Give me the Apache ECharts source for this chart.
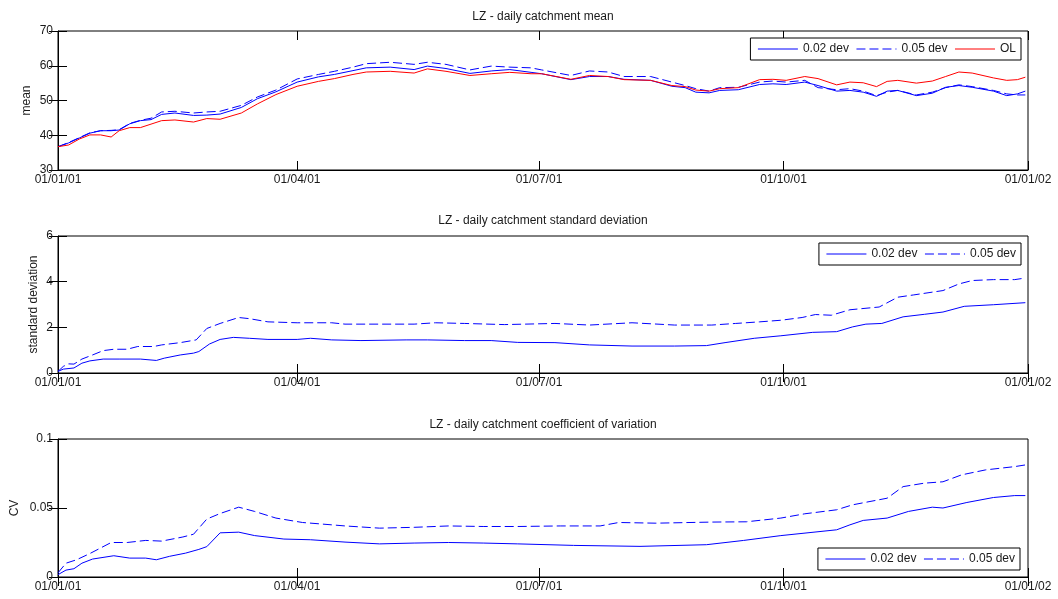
<!DOCTYPE html>
<html>
<head>
<meta charset="utf-8">
<script src="https://cdn.jsdelivr.net/npm/echarts@6/dist/echarts.min.js"></script>
<style>
  html, body { margin: 0; padding: 0; background: #fff; }
  #chart { width: 1058px; height: 599px; }
</style>
</head>
<body>
<div id="chart"></div>
<script>
// x ticks: day of year 2001 and their date labels
const xTickDays = [0, 90, 181, 273, 365];
const xTickLabels = ['01/01/01', '01/04/01', '01/07/01', '01/10/01', '01/01/02'];

// daily catchment mean
const meanDays = [0,4,8,12,16,20,23,27,31,35,39,44,51,56,61,69,75,82,90,98,104,111,116,125,134,139,146,155,163,170,178,182,193,200,207,213,223,231,236,240,245,249,256,264,269,274,281,286,293,298,303,308,312,316,323,329,334,339,344,352,357,361,364];
const meanDev02 = [36.7,37.8,39.2,40.6,41.3,41.3,41.5,43.3,44.2,44.5,46.0,46.4,45.7,45.8,46.1,48.0,50.5,52.5,55.3,56.8,57.5,58.6,59.4,59.6,58.9,59.9,59.2,57.8,58.5,58.9,58.1,57.7,56.0,56.9,56.9,56.1,55.8,54.1,53.7,52.4,52.2,52.9,53.1,54.6,54.8,54.6,55.3,54.3,52.7,52.9,52.4,51.2,52.7,52.9,51.4,52.1,53.8,54.3,53.8,52.7,51.4,51.9,52.7];
const meanDev05 = [36.7,37.9,39.3,40.7,41.3,41.4,41.6,43.4,44.3,44.9,46.7,46.9,46.4,46.7,46.9,48.6,51.0,53.0,56.2,57.5,58.4,59.6,60.6,61.0,60.4,61.0,60.4,58.8,59.9,59.6,59.4,58.8,57.2,58.5,58.2,56.9,56.9,55.3,54.3,53.4,52.7,53.7,53.8,55.3,55.6,55.3,55.8,53.7,53.1,53.4,52.7,51.4,52.4,52.9,51.6,52.4,53.7,54.5,54.0,52.9,51.9,51.6,51.6];
const meanOL = [36.7,37.2,38.9,40.1,40.1,39.5,41.3,42.2,42.2,43.2,44.2,44.4,43.8,44.8,44.6,46.4,49.0,51.7,54.1,55.5,56.3,57.5,58.2,58.4,57.9,59.1,58.4,57.2,57.7,58.1,57.7,57.7,56.1,57.2,56.9,56.0,55.8,54.3,54.0,53.0,52.7,53.4,53.7,56.0,56.1,55.8,56.9,56.3,54.5,55.3,55.1,54.0,55.5,55.8,55.0,55.6,56.9,58.2,57.9,56.5,55.8,56.0,56.7];

// daily catchment standard deviation
const sdDays02 = [0,2,6,9,12,17,23,31,37,40,46,51,53,57,61,66,72,79,90,95,103,114,131,139,153,163,173,187,200,216,232,244,251,262,272,284,293,299,304,310,318,326,333,341,352,364];
const sd02 = [0.07,0.17,0.22,0.43,0.53,0.61,0.61,0.61,0.55,0.65,0.79,0.87,0.94,1.27,1.47,1.56,1.52,1.47,1.47,1.52,1.45,1.42,1.45,1.45,1.42,1.42,1.34,1.33,1.23,1.18,1.18,1.20,1.33,1.52,1.63,1.78,1.81,2.02,2.14,2.17,2.46,2.57,2.67,2.92,2.99,3.08];
const sdDays05 = [0,2,4,6,9,13,17,21,26,30,36,39,46,52,56,61,68,72,79,90,103,108,121,134,142,153,168,187,200,216,232,246,255,264,272,280,285,291,298,309,316,322,333,339,344,352,360,364];
const sd05 = [0.07,0.29,0.40,0.39,0.61,0.79,0.98,1.04,1.04,1.16,1.16,1.23,1.33,1.45,1.95,2.17,2.43,2.38,2.24,2.20,2.20,2.14,2.14,2.14,2.20,2.17,2.12,2.17,2.10,2.20,2.10,2.10,2.17,2.24,2.31,2.43,2.56,2.53,2.77,2.89,3.32,3.42,3.61,3.90,4.05,4.09,4.09,4.16];

// daily catchment coefficient of variation
const cvDays02 = [0,3,6,9,13,21,27,33,37,42,48,53,56,61,68,74,85,95,108,121,134,147,160,173,194,219,244,258,272,293,298,303,312,320,329,333,342,352,360,364];
const cv02 = [0.0017,0.005,0.006,0.010,0.013,0.0154,0.0137,0.0137,0.0125,0.015,0.0173,0.020,0.022,0.032,0.0325,0.030,0.0275,0.027,0.0253,0.024,0.0246,0.025,0.0246,0.024,0.0229,0.0222,0.0234,0.0265,0.030,0.0342,0.0378,0.041,0.0427,0.0475,0.0506,0.050,0.054,0.0576,0.059,0.059];
const cvDays05 = [0,3,7,12,20,26,33,39,47,51,56,61,68,74,82,92,103,108,121,134,147,160,173,189,204,211,225,246,259,272,281,293,299,312,318,326,333,340,349,360,364];
const cv05 = [0.003,0.010,0.0125,0.017,0.025,0.025,0.0265,0.026,0.029,0.031,0.042,0.046,0.0506,0.0475,0.0427,0.0395,0.0378,0.037,0.0354,0.036,0.037,0.0366,0.0366,0.037,0.037,0.0395,0.039,0.0398,0.040,0.0427,0.0458,0.0487,0.0523,0.0571,0.0655,0.068,0.069,0.074,0.0776,0.080,0.0812];

const FONT = "'Liberation Sans', Arial, Helvetica, sans-serif";
const TXT = '#1a1a1a';
const BLUE = '#0000ff';
const RED = '#ff0000';

const pairs = (xs, ys) => xs.map((x, i) => [x, ys[i]]);

const grids = [
  { left: 58, right: 30, top: 31, height: 139 },
  { left: 58, right: 30, top: 236, height: 137 },
  { left: 58, right: 30, top: 439, height: 138 }
].map(g => Object.assign(g, {
  show: true, borderColor: '#000', borderWidth: 1, backgroundColor: '#fff',
  containLabel: false, outerBoundsMode: 'none'
}));

function xAxisFor(gi, top) {
  return {
    type: 'value', gridIndex: gi, min: 0, max: 365,
    position: top ? 'top' : 'bottom',
    axisLine: { show: !top, lineStyle: { color: '#000', width: 1 } },
    axisTick: { show: true, inside: true, length: 9, customValues: xTickDays, lineStyle: { color: '#000' } },
    axisLabel: {
      show: !top, customValues: xTickDays, margin: 4,
      color: TXT, fontSize: 12, fontFamily: FONT,
      formatter: v => xTickLabels[xTickDays.indexOf(v)] || ''
    },
    splitLine: { show: false }
  };
}

function yAxisFor(gi, right, min, max, interval, name, gap) {
  return {
    type: 'value', gridIndex: gi, min, max, interval,
    position: right ? 'right' : 'left',
    name: right ? '' : name, nameLocation: 'middle', nameGap: gap,
    nameMoveOverlap: false,
    nameTextStyle: { color: TXT, fontSize: 12, fontFamily: FONT },
    axisLine: { show: !right, lineStyle: { color: '#000', width: 1 } },
    axisTick: { show: true, inside: true, length: 9, lineStyle: { color: '#000' } },
    axisLabel: { show: !right, margin: 5, color: TXT, fontSize: 12, fontFamily: FONT },
    splitLine: { show: false }
  };
}

function line(name, xi, yi, data, color, dashed) {
  return {
    name, type: 'line', xAxisIndex: xi, yAxisIndex: yi, data,
    symbol: 'none', showSymbol: false, smooth: false,
    lineStyle: { color, width: 1, type: dashed ? [9, 4] : 'solid' },
    itemStyle: { color },
    emphasis: { disabled: true }
  };
}

function titleAt(text, top) {
  return { text, left: 543, top, textAlign: 'center', padding: 0,
    textStyle: { color: TXT, fontSize: 12, fontWeight: 'normal', fontFamily: FONT } };
}

// boxed legend showing only the line sample of each series
function legendAt(names, right, top) {
  return {
    data: names, right, top, orient: 'horizontal',
    itemWidth: 40, itemHeight: 14, itemGap: 7,
    padding: [5, 5, 5, 7],
    borderColor: '#000', borderWidth: 1, borderRadius: 0, backgroundColor: '#fff',
    itemStyle: { opacity: 0, borderWidth: 0 },
    lineStyle: { width: 1 },
    textStyle: { color: TXT, fontSize: 12, fontFamily: FONT },
    selectedMode: false
  };
}

const chart = echarts.init(document.getElementById('chart'), null, { renderer: 'canvas' });
chart.setOption({
  animation: false,
  backgroundColor: '#fff',
  title: [
    titleAt('LZ - daily catchment mean', 11),
    titleAt('LZ - daily catchment standard deviation', 215),
    titleAt('LZ - daily catchment coefficient of variation', 419)
  ],
  legend: [
    legendAt(['0.02 dev', '0.05 dev', 'OL'], 37, 38),
    legendAt(['0.02 dev', '0.05 dev'], 37, 243),
    legendAt(['0.02 dev', '0.05 dev'], 38, 548)
  ],
  grid: grids,
  xAxis: [xAxisFor(0, false), xAxisFor(1, false), xAxisFor(2, false),
          xAxisFor(0, true), xAxisFor(1, true), xAxisFor(2, true)],
  yAxis: [
    yAxisFor(0, false, 30, 70, 10, 'mean', 25),
    yAxisFor(1, false, 0, 6, 2, 'standard deviation', 18),
    yAxisFor(2, false, 0, 0.1, 0.05, 'CV', 37),
    yAxisFor(0, true, 30, 70, 10, '', 0),
    yAxisFor(1, true, 0, 6, 2, '', 0),
    yAxisFor(2, true, 0, 0.1, 0.05, '', 0)
  ],
  series: [
    line('0.02 dev', 0, 0, pairs(meanDays, meanDev02), BLUE, false),
    line('0.05 dev', 0, 0, pairs(meanDays, meanDev05), BLUE, true),
    line('OL', 0, 0, pairs(meanDays, meanOL), RED, false),
    line('0.02 dev', 1, 1, pairs(sdDays02, sd02), BLUE, false),
    line('0.05 dev', 1, 1, pairs(sdDays05, sd05), BLUE, true),
    line('0.02 dev', 2, 2, pairs(cvDays02, cv02), BLUE, false),
    line('0.05 dev', 2, 2, pairs(cvDays05, cv05), BLUE, true)
  ]
});
</script>
</body>
</html>
